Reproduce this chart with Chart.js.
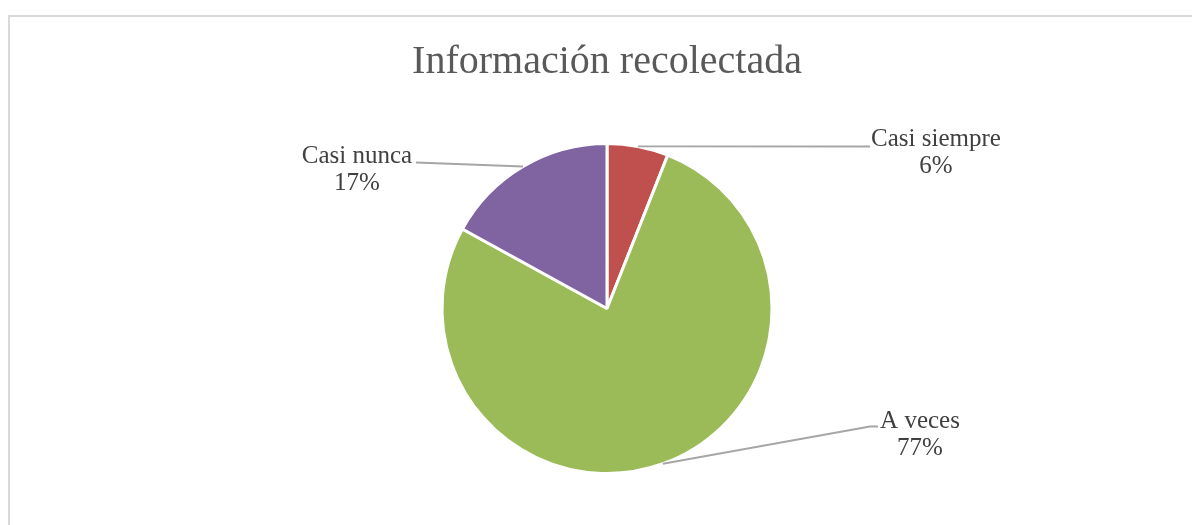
<!DOCTYPE html>
<html>
<head>
<meta charset="utf-8">
<script src="https://cdn.jsdelivr.net/npm/chart.js@4.4.1/dist/chart.umd.min.js"></script>
<style>
  html, body { margin: 0; padding: 0; background: #fff; }
  #wrap { width: 1192px; height: 525px; position: relative; }
</style>
</head>
<body>
<div id="wrap"><canvas id="pie"></canvas></div>
<script>
const categories = ["Casi siempre", "A veces", "Casi nunca"];
const percentages = [6, 77, 17];
const sliceColors = ["#C0504D", "#9BBB59", "#8064A2"];

// where each label sits, relative to the pie centre (px)
const labelPlacement = [
  { textX: 329, baseY: -163, leader: [[263, -162]] },
  { textX: 313, baseY: 119, leader: [[263, 118], [271, 118]] },
  { textX: -250, baseY: -146, leader: [[-191, -146]] },
];

const frame = {
  id: "frame",
  beforeDraw(chart) {
    const ctx = chart.ctx;
    ctx.save();
    ctx.strokeStyle = "#D9D9D9";
    ctx.lineWidth = 2;
    ctx.strokeRect(9, 16, 1400, 800);
    ctx.restore();
  },
};

const calloutLabels = {
  id: "calloutLabels",
  afterDatasetsDraw(chart) {
    const ctx = chart.ctx;
    const arcs = chart.getDatasetMeta(0).data;
    ctx.save();
    arcs.forEach((arc, i) => {
      const { x, y, startAngle, endAngle, outerRadius } = arc.getProps(["x", "y", "startAngle", "endAngle", "outerRadius"], true);
      const mid = (startAngle + endAngle) / 2;
      const place = labelPlacement[i];

      ctx.beginPath();
      ctx.moveTo(x + Math.cos(mid) * outerRadius, y + Math.sin(mid) * outerRadius);
      place.leader.forEach(([dx, dy]) => ctx.lineTo(x + dx, y + dy));
      ctx.strokeStyle = "#A6A6A6";
      ctx.lineWidth = 1.8;
      ctx.stroke();

      ctx.fillStyle = "#404040";
      ctx.font = "25px 'Liberation Serif'";
      ctx.textAlign = "center";
      ctx.textBaseline = "alphabetic";
      ctx.fillText(categories[i], x + place.textX, y + place.baseY);
      ctx.fillText(percentages[i] + "%", x + place.textX, y + place.baseY + 27);
    });
    ctx.restore();
  },
};

new Chart(document.getElementById("pie"), {
  type: "pie",
  data: {
    labels: categories,
    datasets: [
      {
        data: percentages,
        backgroundColor: sliceColors,
        borderColor: "#FFFFFF",
        borderWidth: 3,
      },
    ],
  },
  options: {
    responsive: true,
    maintainAspectRatio: false,
    animation: false,
    layout: { padding: { left: 22, right: 0, top: 0, bottom: 50 } },
    plugins: {
      legend: { display: false },
      tooltip: { enabled: false },
      title: {
        display: true,
        text: "Información recolectada",
        color: "#595959",
        font: { family: "'Liberation Serif'", size: 40, weight: "normal", lineHeight: 1.2 },
        padding: { top: 38, bottom: 56 },
      },
    },
  },
  plugins: [frame, calloutLabels],
});
</script>
</body>
</html>
